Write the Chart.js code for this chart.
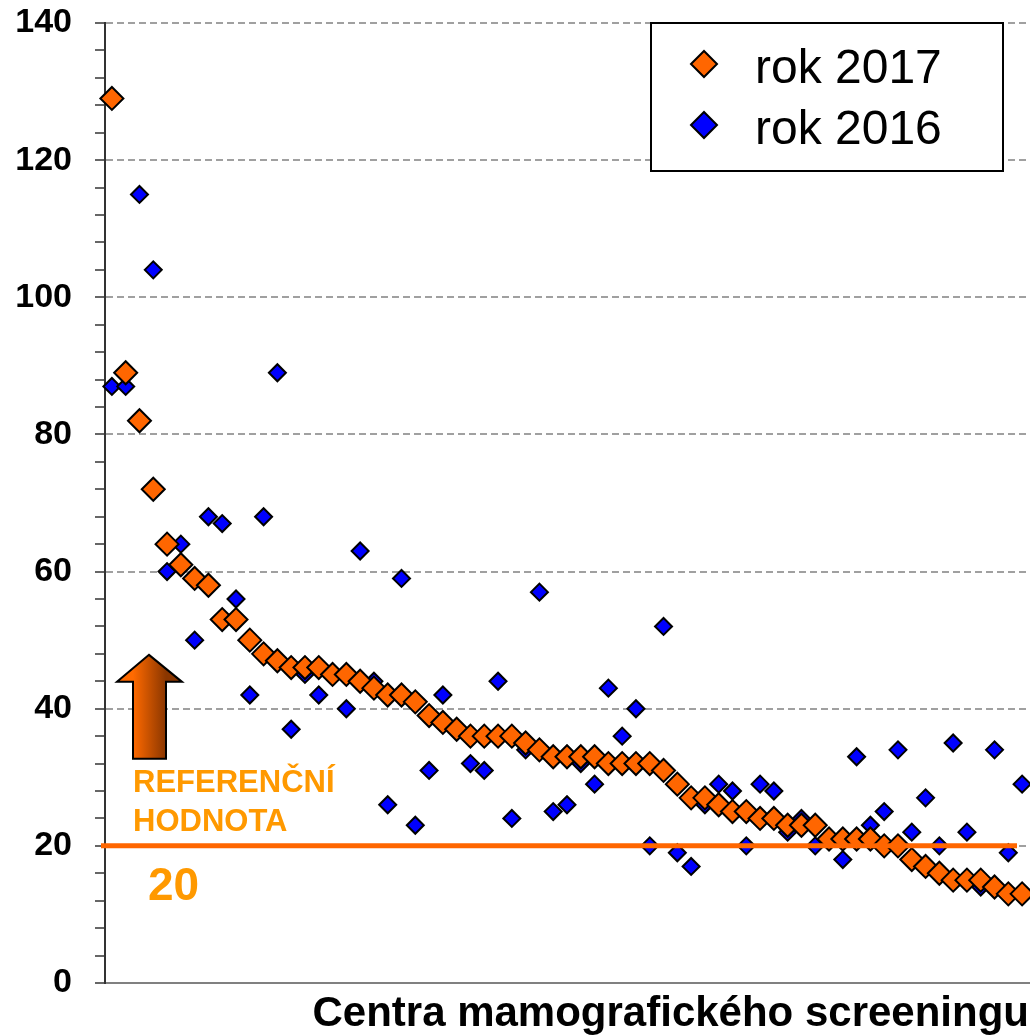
<!DOCTYPE html>
<html lang="cs">
<head>
    <meta charset="UTF-8">
    <title>Centra mamografického screeningu</title>
    <script src="https://cdn.jsdelivr.net/npm/chart.js@4.4.1/dist/chart.umd.min.js"></script>
    <style>
        body { margin: 0; background: #fff; }
    </style>
</head>
<body>
    <canvas id="chart" width="1030" height="1035"></canvas>
    <script>
        // one value per screening centre, sorted by the 2017 value
        const centra = [
            '1','2','3','4','5','6','7','8','9','10','11','12','13','14','15','16','17',
            '18','19','20','21','22','23','24','25','26','27','28','29','30','31','32','33',
            '34','35','36','37','38','39','40','41','42','43','44','45','46','47','48','49',
            '50','51','52','53','54','55','56','57','58','59','60','61','62','63','64','65',
            '66','67'
        ];
        const rok2017 = [
            129, 89, 82, 72, 64, 61, 59, 58, 53, 53, 50, 48, 47, 46, 46, 46, 45,
            45, 44, 43, 42, 42, 41, 39, 38, 37, 36, 36, 36, 36, 35, 34, 33,
            33, 33, 33, 32, 32, 32, 32, 31, 29, 27, 27, 26, 25, 25, 24, 24,
            23, 23, 23, 21, 21, 21, 21, 20, 20, 18, 17, 16, 15, 15, 15, 14,
            13, 13
        ];
        const rok2016 = [
            87, 87, 115, 104, 60, 64, 50, 68, 67, 56, 42, 68, 89, 37, 45, 42, 45,
            40, 63, 44, 26, 59, 23, 31, 42, 37, 32, 31, 44, 24, 34, 57, 25,
            26, 32, 29, 43, 36, 40, 20, 52, 19, 17, 26, 29, 28, 20, 29, 28,
            22, 24, 20, 21, 18, 33, 23, 25, 34, 22, 27, 20, 35, 22, 14, 34,
            19, 29
        ];
        const yTickLabels = [0, 20, 40, 60, 80, 100, 120, 140];
        const referencniHodnota = 20;

        const orange = '#ff6600';
        const blue = '#0000ff';
        const textOrange = '#ff9900';
        const font = '"Liberation Sans", Arial, sans-serif';

        function diamond(ctx, x, y, r, fill) {
            ctx.beginPath();
            ctx.moveTo(x - r, y);
            ctx.lineTo(x, y - r);
            ctx.lineTo(x + r, y);
            ctx.lineTo(x, y + r);
            ctx.closePath();
            ctx.fillStyle = fill;
            ctx.fill();
            ctx.lineWidth = 2;
            ctx.strokeStyle = '#000';
            ctx.stroke();
        }

        // reference line, arrow, its label and the boxed legend
        const extras = {
            id: 'extras',
            beforeDatasetsDraw(chart) {
                const ctx = chart.ctx;
                const ca = chart.chartArea;
                const y20 = chart.scales.y.getPixelForValue(referencniHodnota);
                const l = ca.left;

                // arrow
                const grad = ctx.createLinearGradient(l + 28, 0, l + 61, 0);
                grad.addColorStop(0, '#ff6a00');
                grad.addColorStop(1, '#8a3600');
                ctx.save();
                ctx.beginPath();
                ctx.moveTo(l + 44, y20 - 191);
                ctx.lineTo(l + 77, y20 - 164);
                ctx.lineTo(l + 61, y20 - 164);
                ctx.lineTo(l + 61, y20 - 87);
                ctx.lineTo(l + 28, y20 - 87);
                ctx.lineTo(l + 28, y20 - 164);
                ctx.lineTo(l + 12, y20 - 164);
                ctx.closePath();
                ctx.fillStyle = grad;
                ctx.fill();
                ctx.lineWidth = 2;
                ctx.strokeStyle = '#000';
                ctx.stroke();

                ctx.fillStyle = textOrange;
                ctx.textAlign = 'left';
                ctx.textBaseline = 'alphabetic';
                ctx.font = 'bold 31px ' + font;
                ctx.fillText('REFERENČNÍ', l + 28, y20 - 54);
                ctx.fillText('HODNOTA', l + 28, y20 - 15);
                ctx.font = 'bold 46px ' + font;
                ctx.fillText(String(referencniHodnota), l + 43, y20 + 54);
                ctx.restore();
            },
            afterDatasetsDraw(chart) {
                const ctx = chart.ctx;
                const ca = chart.chartArea;
                const y20 = chart.scales.y.getPixelForValue(referencniHodnota);
                ctx.save();
                ctx.beginPath();
                ctx.moveTo(ca.left - 4, y20);
                ctx.lineTo(ca.right - 12, y20);
                ctx.lineWidth = 5;
                ctx.strokeStyle = orange;
                ctx.stroke();

                // legend
                const bx = ca.right - 378, by = ca.top, bw = 352, bh = 148;
                ctx.fillStyle = '#fff';
                ctx.fillRect(bx, by, bw, bh);
                ctx.lineWidth = 2;
                ctx.strokeStyle = '#000';
                ctx.strokeRect(bx, by, bw, bh);
                ctx.font = '48px ' + font;
                ctx.textAlign = 'left';
                ctx.textBaseline = 'alphabetic';
                chart.data.datasets.forEach((ds, i) => {
                    const cy = by + 41 + i * 61;
                    diamond(ctx, bx + 53, cy, 13, ds.backgroundColor);
                    ctx.fillStyle = '#000';
                    ctx.fillText(ds.label, bx + 104, cy + 19);
                });
                ctx.restore();
            }
        };

        const ctx = document.getElementById('chart').getContext('2d');
        const chart = new Chart(ctx, {
            type: 'line',
            data: {
                labels: centra,
                datasets: [{
                    label: 'rok 2017',
                    data: rok2017,
                    showLine: false,
                    pointStyle: 'rectRot',
                    pointRadius: 11.5,
                    backgroundColor: orange,
                    borderColor: '#000',
                    pointBorderWidth: 2
                }, {
                    label: 'rok 2016',
                    data: rok2016,
                    showLine: false,
                    pointStyle: 'rectRot',
                    pointRadius: 8.5,
                    backgroundColor: blue,
                    borderColor: '#000',
                    pointBorderWidth: 2
                }]
            },
            options: {
                responsive: false,
                animation: false,
                events: [],
                layout: { autoPadding: false, padding: { top: 23, right: 1, left: 0, bottom: 0 } },
                plugins: {
                    legend: { display: false },
                    tooltip: { enabled: false }
                },
                scales: {
                    x: {
                        offset: true,
                        grid: { display: false },
                        border: { display: true, color: '#808080', width: 2 },
                        ticks: { display: false },
                        title: {
                            display: true,
                            text: 'Centra mamografického screeningu',
                            align: 'end',
                            color: '#000',
                            font: { family: font, size: 42, weight: 'bold', lineHeight: 1 },
                            padding: { top: 0, bottom: 0 }
                        },
                        afterFit: s => { s.height = 52; }
                    },
                    y: {
                        min: 0,
                        max: 140,
                        ticks: {
                            stepSize: 4,
                            autoSkip: false,
                            padding: 23,
                            color: '#000',
                            font: { family: font, size: 34, weight: 'bold' },
                            callback: v => yTickLabels.includes(v) ? String(v) : ''
                        },
                        grid: {
                            color: c => (c.tick && c.tick.value > 0 && c.tick.value % 20 === 0) ? '#a0a0a0' : 'transparent',
                            lineWidth: 2,
                            tickColor: '#333',
                            tickLength: 10,
                            tickWidth: 1.5,
                            tickBorderDash: []
                        },
                        border: { display: true, color: '#333', width: 2, dash: [7, 4] },
                        afterFit: s => {
                            s.width = 105;
                            s.paddingTop = 0;
                            s.paddingBottom = 0;
                        }
                    }
                }
            },
            plugins: [extras]
        });
    </script>
</body>
</html>
